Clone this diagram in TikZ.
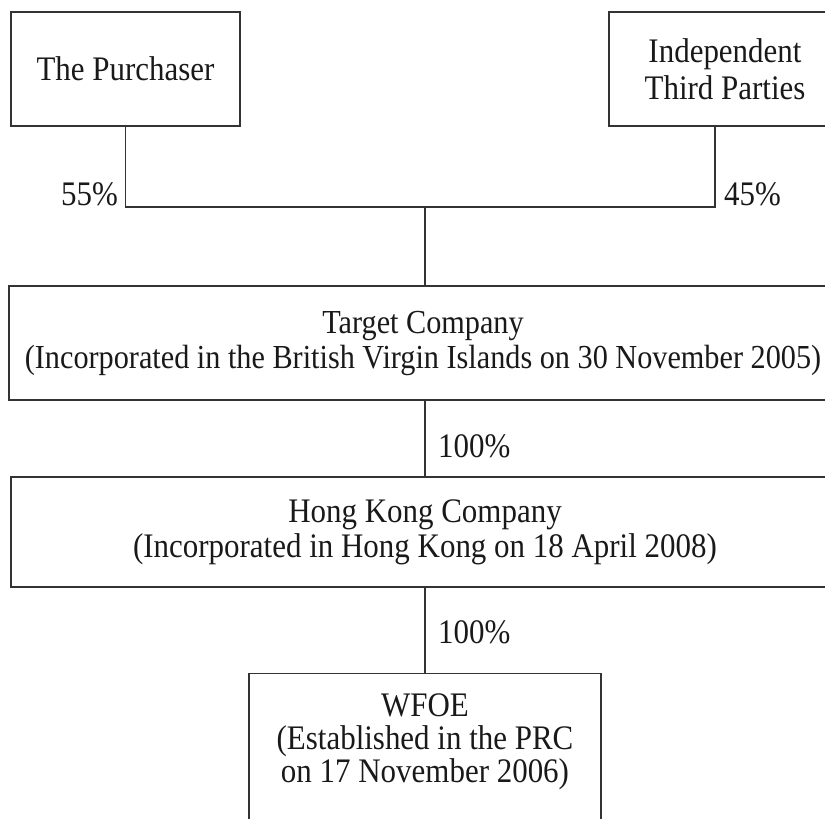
\documentclass[tikz,border=0pt]{standalone}
\usepackage{fontspec}
\setmainfont{Liberation Serif}[FakeStretch=0.9]
\begin{document}
\begin{tikzpicture}[x=1pt,y=-1pt,
  ln/.style={line width=1.1pt, draw=black!80},
  txt/.style={font=\fontsize{34.4}{36}\selectfont, text=black!90, align=center, inner sep=0pt},
  box/.style={ln, txt, rectangle},
  pct/.style={font=\fontsize{34.4}{36}\selectfont, text=black!90, inner sep=0pt}]
\useasboundingbox (0,0) rectangle (825,819);
\clip (0,0) rectangle (825,819);
% boxes
\node[box, minimum width=229pt, minimum height=114pt] (buyer) at (125.5,69) {The Purchaser};
\node[box, minimum width=232pt, minimum height=114pt, font=\fontsize{34.4}{37}\selectfont] (ind) at (725,69) {Independent\\Third Parties};
\node[box, minimum width=828pt, minimum height=114pt, font=\fontsize{33.6}{35}\selectfont] (target) at (423,343) {Target Company\\(Incorporated in the British Virgin Islands on 30 November 2005)};
\node[box, minimum width=828pt, minimum height=110pt, font=\fontsize{34.4}{35}\selectfont] (hk) at (425,532) {Hong Kong Company\\(Incorporated in Hong Kong on 18 April 2008)};
\node[ln, rectangle, minimum width=352pt, minimum height=180pt, anchor=north] (wfoe) at (425,673) {};
\node[txt, font=\fontsize{34.4}{33}\selectfont] (wfoetext) at (425,742) {WFOE\\(Established in the PRC\\on 17 November 2006)};
% joints
\coordinate (jm) at (425,207);
\coordinate (jr) at (715,207);
% connectors
\draw[ln] (buyer.south) |- (jr) -- (jr |- ind.south);
\draw[ln] (jm) -- (jm |- target.north);
\draw[ln] (target.south -| jm) -- (hk.north -| jm);
\draw[ln] (hk) -- (wfoe);
% labels
\node[pct, anchor=base east] (p55) at (118,205) {55\%};
\node[pct, anchor=base west] (p45) at (724,205) {45\%};
\node[pct, anchor=base west] (p100a) at (438,457) {100\%};
\node[pct, anchor=base west] (p100b) at (438,643) {100\%};
\end{tikzpicture}
\end{document}
